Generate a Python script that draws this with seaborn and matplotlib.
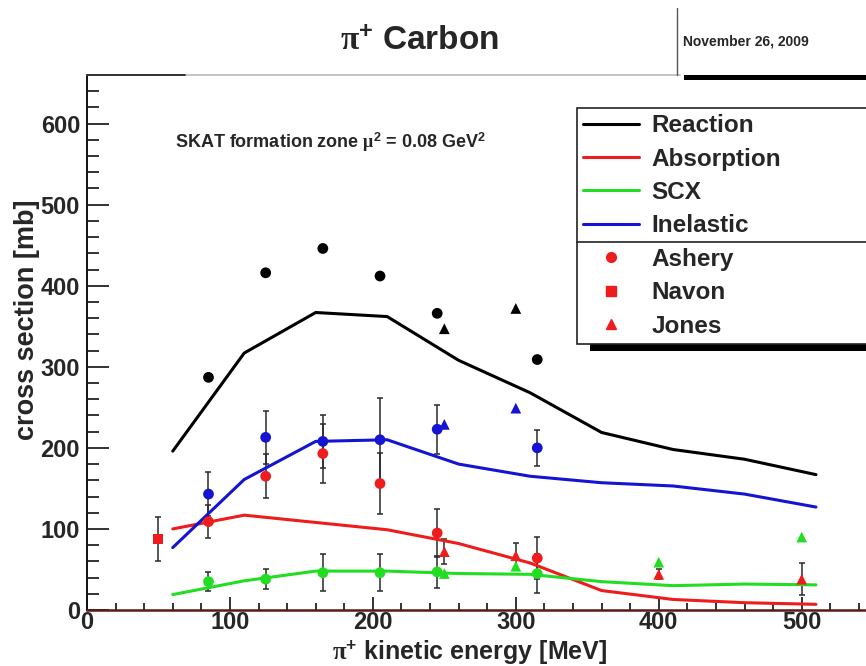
import matplotlib
matplotlib.use("Agg")
import numpy as np
import pandas as pd
import seaborn as sns
import matplotlib.pyplot as plt
from matplotlib.lines import Line2D
from matplotlib.patches import Rectangle
from matplotlib.ticker import MultipleLocator

sns.set_style("ticks")
plt.rcParams["font.family"] = ["Liberation Sans", "DejaVu Sans"]
plt.rcParams["font.weight"] = "bold"
plt.rcParams["mathtext.fontset"] = "custom"
plt.rcParams["mathtext.rm"] = "Liberation Serif"
plt.rcParams["mathtext.it"] = "Liberation Serif:italic"
plt.rcParams["mathtext.bf"] = "Liberation Sans:bold"

# --- SKAT model curves (mb) ---
model_energy = [60, 110, 160, 210, 260, 310, 360, 410, 460, 510]
model_reaction = [196, 317, 367, 362, 308, 268, 219, 198, 186, 167]
model_absorption = [100, 117, 108, 99, 82, 58, 24, 13, 9, 7]
model_scx = [19, 36, 48, 48, 45, 44, 35, 30, 32, 31]
model_inelastic = [77, 161, 208, 210, 180, 165, 157, 153, 143, 127]

# --- Ashery data ---
ash_energy = [85, 125, 165, 205, 245, 315]
ash_reaction = [287, 416, 446, 412, 366, 309]
ash_inelastic = [143, 213, 208, 210, 223, 200]
ash_inelastic_err = [27, 33, 33, 51, 30, 22]
ash_absorption = [109, 165, 193, 156, 95, 64]
ash_absorption_err = [20, 27, 36, 38, 30, 26]
ash_scx = [35, 38, 46, 46, 47, 45]
ash_scx_err = [12, 12, 23, 23, 20, 24]

# --- Navon data ---
nav_energy = [50]
nav_absorption = [88]
nav_absorption_err = [27]

# --- Jones data ---
jon_energy = [250, 300, 400, 500]
jon_reaction = [347, 372, np.nan, np.nan]
jon_inelastic = [229, 249, np.nan, np.nan]
jon_absorption = [72, 67, 44, 38]
jon_absorption_err = [15, 16, 6, 20]
jon_scx = [45, 54, 59, 90]

processes = ["Reaction", "Absorption", "SCX", "Inelastic"]
colors = {"Reaction": "#000000", "Absorption": "#ee1c1c",
          "SCX": "#22dd22", "Inelastic": "#1414d2"}

model = pd.DataFrame({"energy": model_energy * 4,
                      "xsec": model_reaction + model_absorption + model_scx + model_inelastic,
                      "process": sum([[p] * len(model_energy) for p in processes], [])})
ashery = pd.DataFrame({"energy": ash_energy * 4,
                       "xsec": ash_reaction + ash_absorption + ash_scx + ash_inelastic,
                       "process": sum([[p] * len(ash_energy) for p in processes], [])})
jones = pd.DataFrame({"energy": jon_energy * 4,
                      "xsec": jon_reaction + jon_absorption + jon_scx + jon_inelastic,
                      "process": sum([[p] * len(jon_energy) for p in processes], [])}).dropna()
navon = pd.DataFrame({"energy": nav_energy, "xsec": nav_absorption,
                      "process": ["Absorption"]})

W, H = 866, 666
fig = plt.figure(figsize=(W / 100, H / 100), dpi=100)
ax = fig.add_axes([87 / W, 1 - 610 / H, 1 - 87 / W, (610 - 75) / H])

# error bars
err_kw = dict(fmt="none", ecolor="#2a2a2a", elinewidth=1.1, capsize=2.5, capthick=1.1, zorder=2)
ax.errorbar(ash_energy, ash_inelastic, yerr=ash_inelastic_err, **err_kw)
ax.errorbar(ash_energy, ash_absorption, yerr=ash_absorption_err, **err_kw)
ax.errorbar(ash_energy, ash_scx, yerr=ash_scx_err, **err_kw)
ax.errorbar(nav_energy, nav_absorption, yerr=nav_absorption_err, **err_kw)
ax.errorbar(jon_energy, jon_absorption, yerr=jon_absorption_err, **err_kw)

# model curves
sns.lineplot(data=model, x="energy", y="xsec", hue="process", palette=colors,
             hue_order=processes, linewidth=2.2, legend=False, ax=ax,
             estimator=None, sort=False, zorder=3)

# measurements
sns.scatterplot(data=ashery, x="energy", y="xsec", hue="process", palette=colors,
                hue_order=processes, marker="o", s=60, linewidth=0, legend=False,
                ax=ax, zorder=4)
sns.scatterplot(data=jones, x="energy", y="xsec", hue="process", palette=colors,
                hue_order=processes, marker="^", s=60, linewidth=0, legend=False,
                ax=ax, zorder=4)
sns.scatterplot(data=navon, x="energy", y="xsec", hue="process", palette=colors,
                hue_order=processes, marker="s", s=60, linewidth=0, legend=False,
                ax=ax, zorder=4)

ax.set_xlim(0, 545)
ax.set_ylim(0, 660)
ax.xaxis.set_major_locator(MultipleLocator(100))
ax.xaxis.set_minor_locator(MultipleLocator(20))
ax.yaxis.set_major_locator(MultipleLocator(100))
ax.yaxis.set_minor_locator(MultipleLocator(20))
ax.tick_params(axis="both", which="both", direction="in", top=False, right=False,
               labelsize=17, width=1.3, color="#222222")
ax.tick_params(axis="y", which="major", length=16, pad=5)
ax.tick_params(axis="y", which="minor", length=8.5)
ax.tick_params(axis="x", which="major", length=9.5, pad=1)
ax.tick_params(axis="x", which="minor", length=5)
for lab in ax.get_xticklabels() + ax.get_yticklabels():
    lab.set_fontweight("bold")
ax.set_xlabel("")
ax.set_ylabel("")

ax.spines["right"].set_visible(False)
ax.spines["left"].set_color("#111111")
ax.spines["left"].set_linewidth(1.4)
ax.spines["bottom"].set_color("#5a1818")
ax.spines["bottom"].set_linewidth(1.8)
ax.spines["top"].set_visible(False)
fig.add_artist(Line2D([87 / W, 680 / W], [1 - 75 / H, 1 - 75 / H], color="#c4c4c4", lw=1.4))
fig.add_artist(Line2D([87 / W, 185 / W], [1 - 75 / H, 1 - 75 / H], color="#333333", lw=1.4))

fig.text(27 / W, 1 - 320 / H, "cross section [mb]", rotation=90, fontsize=19.5,
         fontweight="bold", ha="center", va="center")
fig.text(470 / W, 1 - 659 / H, r"$\mathrm{\pi}^{\mathbf{+}}$ kinetic energy [MeV]",
         fontsize=18, fontweight="bold", ha="center", va="baseline")

# title and date box
fig.text(420 / W, 1 - 42 / H, r"$\mathrm{\pi}^{\mathbf{+}}$ Carbon", fontsize=24,
         fontweight="bold", ha="center", va="center")
fig.add_artist(Line2D([677 / W, 677 / W], [1 - 8 / H, 1 - 75 / H], color="#555555", lw=1))
fig.add_artist(Rectangle((684 / W, 1 - 80 / H), (W - 684) / W, 5 / H,
                         transform=fig.transFigure, color="black", lw=0))
fig.text(683 / W, 1 - 42 / H, "November 26, 2009", fontsize=10, fontweight="bold",
         ha="left", va="center")

fig.text(175 / W, 1 - 142 / H,
         r"SKAT formation zone $\mathrm{\mu}^{\mathbf{2}}$ = 0.08 GeV$^{\mathbf{2}}$",
         fontsize=13, fontweight="bold", ha="left", va="center")

# legend
handles = [Line2D([], [], color=colors[p], lw=2.2) for p in processes]
handles += [Line2D([], [], color=colors["Absorption"], marker=m, ls="none", markersize=7)
            for m in ["o", "s", "^"]]
labels = processes + ["Ashery", "Navon", "Jones"]
leg = fig.legend(handles, labels, loc="upper left",
                 bbox_to_anchor=(577 / W, 1 - 108 / H, 400 / W, 0), mode="expand",
                 prop={"size": 17.5, "weight": "bold"}, frameon=True, fancybox=False,
                 edgecolor="#222222", framealpha=1, borderpad=0.25, labelspacing=0.43,
                 handlelength=2.3, handletextpad=0.5, borderaxespad=0)
leg.get_frame().set_linewidth(1.2)

# drop shadow under the legend box and the separator between curves and data sets
fig.canvas.draw()
bb = leg.get_window_extent()
fig.add_artist(Rectangle(((bb.x0 + 13) / W, (bb.y0 - 7) / H), (W - bb.x0) / W, 7 / H,
                         transform=fig.transFigure, color="black", lw=0, zorder=1))
fig.add_artist(Line2D([577 / W, 1], [1 - 242 / H, 1 - 242 / H], color="#222222", lw=1.2,
                      zorder=10))

fig.savefig("out.png", dpi=100)
